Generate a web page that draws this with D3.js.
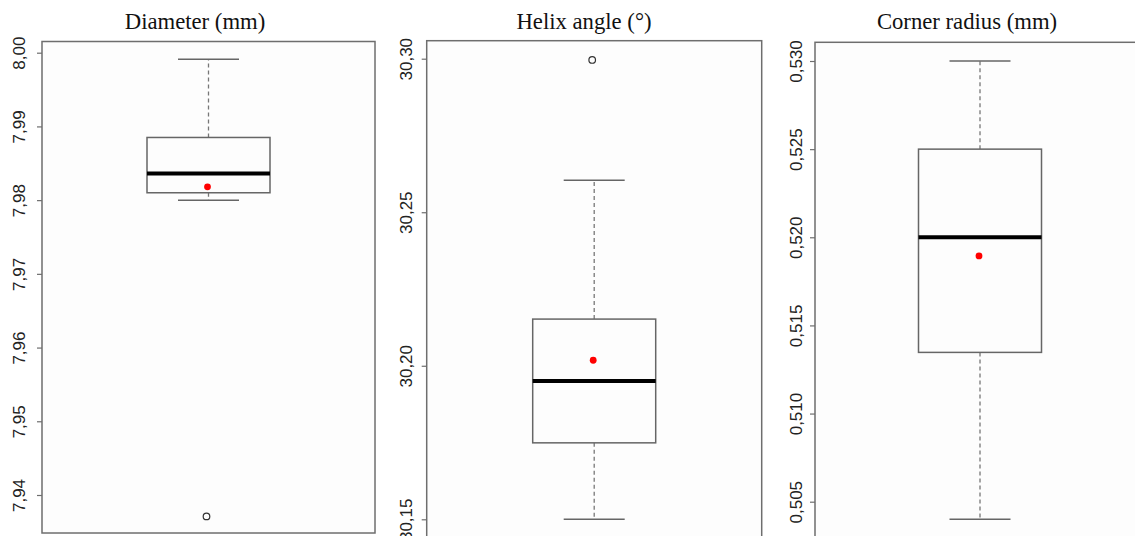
<!DOCTYPE html>
<html>
<head>
<meta charset="utf-8">
<script src="https://cdn.jsdelivr.net/npm/d3@7"></script>
<style>
  html, body { margin: 0; padding: 0; background: #ffffff; }
  svg { display: block; }
</style>
</head>
<body>
<svg id="chart" width="1135" height="536"></svg>
<script>
// Box-plot summaries for three tool geometry measurements
const panelTitles   = ["Diameter (mm)", "Helix angle (°)", "Corner radius (mm)"];
const lowerWhisker  = [7.9800, 30.1500, 0.5040];
const lowerQuartile = [7.9810, 30.1749, 0.51347];
const medians       = [7.9836, 30.1950, 0.5200];
const upperQuartile = [7.9885, 30.2152, 0.5250];
const upperWhisker  = [7.9991, 30.2604, 0.5300];
const means         = [7.9818, 30.2018, 0.51894];
const outliers      = [[7.9371], [30.2996], []];
const tickValues    = [
  [7.94, 7.95, 7.96, 7.97, 7.98, 7.99, 8.00],
  [30.15, 30.20, 30.25, 30.30],
  [0.505, 0.510, 0.515, 0.520, 0.525, 0.530]
];
const tickDecimals  = [2, 2, 3];
const axisDomains   = [[7.94, 8.00], [30.15, 30.30], [0.505, 0.530]];

// Panel geometry (frame box and pixel span of the axis domain)
const layout = [
  { x0: 42,    x1: 375,   y0: 41.5, y1: 533, yLo: 495,   yHi: 52.7, titleX: 195, labelOff: 17 },
  { x0: 426.7, x1: 761.7, y0: 40.7, y1: 545, yLo: 519.3, yHi: 58.7, titleX: 584, labelOff: 15 },
  { x0: 815,   x1: 1145,  y0: 42.3, y1: 545, yLo: 501.7, yHi: 61,   titleX: 967, labelOff: 13 }
];
const boxWidth = 123;
const capWidth = 61;

const locale = d3.formatLocale({ decimal: ",", thousands: ".", grouping: [3], currency: ["", ""] });

const svg = d3.select("#chart");

panelTitles.forEach((title, i) => {
  const L = layout[i];
  const g = svg.append("g");

  const y = d3.scaleLinear().domain(axisDomains[i]).range([L.yLo, L.yHi]);
  const x = d3.scalePoint().domain([title]).range([L.x0, L.x1]).padding(0.5);
  const cx = x(title);

  // title
  g.append("text")
    .attr("x", L.titleX)
    .attr("y", 29)
    .attr("text-anchor", "middle")
    .attr("font-family", "'Liberation Serif', 'Times New Roman', serif")
    .attr("font-size", 22.7)
    .attr("fill", "#111")
    .text(title);

  // plot frame
  g.append("rect")
    .attr("x", L.x0).attr("y", L.y0)
    .attr("width", L.x1 - L.x0).attr("height", L.y1 - L.y0)
    .attr("fill", "#fdfdfd")
    .attr("stroke", "#6e6e6e")
    .attr("stroke-width", 1.5);

  // y axis with vertical tick labels
  const fmt = locale.format("." + tickDecimals[i] + "f");
  const axis = g.append("g")
    .attr("transform", `translate(${L.x0},0)`)
    .call(d3.axisLeft(y).tickValues(tickValues[i]).tickFormat(fmt).tickSize(5));
  axis.select(".domain").remove();
  axis.selectAll(".tick line").attr("stroke", "#6e6e6e").attr("stroke-width", 1.2);
  axis.selectAll(".tick text")
    .attr("transform", "rotate(-90)")
    .attr("x", 0)
    .attr("y", -L.labelOff)
    .attr("dy", 0)
    .attr("text-anchor", "middle")
    .attr("font-family", "'Liberation Sans', Arial, sans-serif")
    .attr("font-size", 17)
    .attr("fill", "#222");

  // whiskers (dashed)
  g.append("line")
    .attr("x1", cx).attr("x2", cx)
    .attr("y1", y(upperQuartile[i])).attr("y2", y(upperWhisker[i]))
    .attr("stroke", "#777").attr("stroke-width", 1.3).attr("stroke-dasharray", "4,3");
  g.append("line")
    .attr("x1", cx).attr("x2", cx)
    .attr("y1", y(lowerQuartile[i])).attr("y2", y(lowerWhisker[i]))
    .attr("stroke", "#777").attr("stroke-width", 1.3).attr("stroke-dasharray", "4,3");

  // whisker caps
  [upperWhisker[i], lowerWhisker[i]].forEach(v => {
    g.append("line")
      .attr("x1", cx - capWidth / 2).attr("x2", cx + capWidth / 2)
      .attr("y1", y(v)).attr("y2", y(v))
      .attr("stroke", "#666").attr("stroke-width", 1.5);
  });

  // box
  g.append("rect")
    .attr("x", cx - boxWidth / 2)
    .attr("y", y(upperQuartile[i]))
    .attr("width", boxWidth)
    .attr("height", y(lowerQuartile[i]) - y(upperQuartile[i]))
    .attr("fill", "#fdfdfd")
    .attr("stroke", "#666").attr("stroke-width", 1.5);

  // median
  g.append("line")
    .attr("x1", cx - boxWidth / 2).attr("x2", cx + boxWidth / 2)
    .attr("y1", y(medians[i])).attr("y2", y(medians[i]))
    .attr("stroke", "#000").attr("stroke-width", 4);

  // mean
  g.append("circle")
    .attr("cx", cx - 1).attr("cy", y(means[i]))
    .attr("r", 3.4)
    .attr("fill", "#ff0000");

  // outliers
  g.selectAll("circle.outlier")
    .data(outliers[i])
    .enter().append("circle")
    .attr("class", "outlier")
    .attr("cx", cx - 2).attr("cy", d => y(d))
    .attr("r", 3.3)
    .attr("fill", "none")
    .attr("stroke", "#333").attr("stroke-width", 1.2);
});
</script>
</body>
</html>
